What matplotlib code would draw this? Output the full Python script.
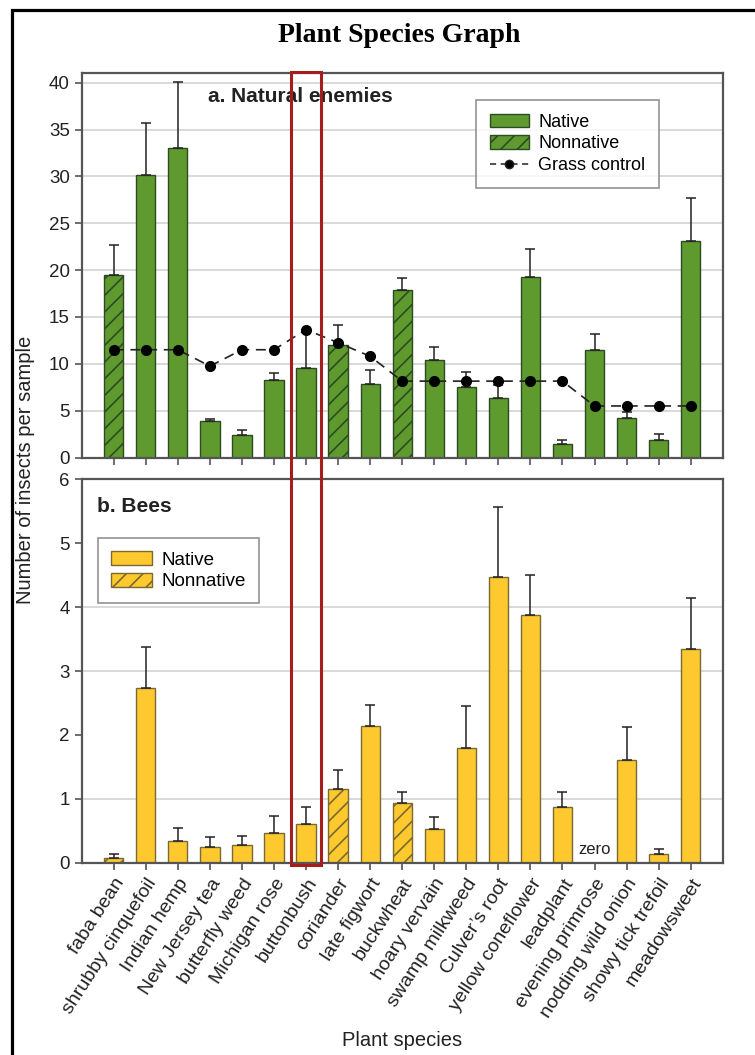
import matplotlib
matplotlib.use("Agg")
import matplotlib.pyplot as plt
from matplotlib.patches import Patch, Rectangle
from matplotlib.lines import Line2D
import matplotlib.transforms as mtransforms
import numpy as np

plt.rcParams['font.family'] = ['Liberation Sans', 'DejaVu Sans']
plt.rcParams['hatch.linewidth'] = 1.2

species = ["faba bean", "shrubby cinquefoil", "Indian hemp", "New Jersey tea",
           "butterfly weed", "Michigan rose", "buttonbush", "coriander",
           "late figwort", "buckwheat", "hoary vervain", "swamp milkweed",
           "Culver\u2019s root", "yellow coneflower", "leadplant", "evening primrose",
           "nodding wild onion", "showy tick trefoil", "meadowsweet"]
nonnative = ["faba bean", "coriander", "buckwheat"]

enemies_mean = [19.5, 30.1, 33.0, 3.9, 2.4, 8.3, 9.6, 12.0, 7.8, 17.9,
                10.4, 7.5, 6.4, 19.3, 1.4, 11.5, 4.2, 1.9, 23.1]
enemies_err = [3.2, 5.6, 7.1, 0.2, 0.5, 0.7, 4.0, 2.1, 1.5, 1.3,
               1.4, 1.6, 1.3, 3.0, 0.45, 1.7, 0.7, 0.65, 4.6]
grass_control = [11.5, 11.5, 11.5, 9.75, 11.5, 11.5, 13.65, 12.25, 10.8, 8.15,
                 8.15, 8.15, 8.15, 8.15, 8.15, 5.5, 5.5, 5.5, 5.5]

bees_mean = [0.07, 2.73, 0.34, 0.24, 0.27, 0.46, 0.60, 1.15, 2.14, 0.94,
             0.53, 1.80, 4.47, 3.87, 0.87, 0.0, 1.60, 0.13, 3.34]
bees_err = [0.07, 0.64, 0.20, 0.17, 0.15, 0.27, 0.27, 0.30, 0.33, 0.16,
            0.19, 0.66, 1.09, 0.63, 0.23, 0.0, 0.52, 0.08, 0.81]

enemies_yticks = [0, 5, 10, 15, 20, 25, 30, 35, 40]
bees_yticks = [0, 1, 2, 3, 4, 5, 6]

GREEN = "#5f9a2f"
GREEN_EDGE = "#2e4a22"
YELLOW = "#fec92f"
YELLOW_EDGE = "#7a6a30"
SPINE = "#555555"
GRID = "#d3d3d3"
TXT = "#222222"

W, H = 755, 1055
fig = plt.figure(figsize=(W / 100, H / 100), dpi=100)
fig.patch.set_facecolor("white")

def fx(px):
    return px / W

def fy(py):
    return 1 - py / H

left, right = fx(81.7), fx(722.7)
ax1 = fig.add_axes([left, fy(457.5), right - left, fy(73.3) - fy(457.5)])
ax2 = fig.add_axes([left, fy(862.7), right - left, fy(479.3) - fy(862.7)])

x = np.arange(len(species))
is_non = [s in nonnative for s in species]

def style_axes(ax, yticks, ylim):
    ax.set_xlim(-1, len(species))
    ax.set_ylim(*ylim)
    ax.set_yticks(yticks)
    ax.set_xticks(x)
    for sp in ax.spines.values():
        sp.set_color(SPINE)
        sp.set_linewidth(1.6)
    ax.tick_params(axis='both', direction='out', length=5, width=1.2,
                   color=SPINE, labelcolor=TXT, labelsize=13.5)
    ax.set_axisbelow(True)

# Top panel
style_axes(ax1, enemies_yticks, (0, 41))
for yv in enemies_yticks[1:]:
    ax1.axhline(yv, color=GRID, lw=1.2, zorder=0)
ax1.set_xticklabels([])
ax1.bar(x, enemies_mean, width=0.6, color=GREEN, edgecolor=GREEN_EDGE,
        linewidth=1.0, hatch=['//' if n else '' for n in is_non], zorder=2)
ax1.errorbar(x, enemies_mean, yerr=[np.zeros(len(x)), enemies_err], fmt='none',
             ecolor='#222222', elinewidth=1.1, capsize=3.6, capthick=1.1, zorder=3)
ax1.plot(x, grass_control, linestyle=(0, (6, 4)), color='#222222', lw=1.2,
         marker='o', markersize=7, markerfacecolor='black',
         markeredgecolor='black', zorder=4)
ax1.text((208 - 81.7) / 641, (457.5 - 96.7) / 384.2,
         "a. Natural enemies", transform=ax1.transAxes, fontsize=15,
         fontweight='bold', color=TXT, ha='left', va='center')
h_top = [Patch(facecolor=GREEN, edgecolor=GREEN_EDGE, label='Native'),
         Patch(facecolor=GREEN, edgecolor=GREEN_EDGE, hatch='//', label='Nonnative'),
         Line2D([0], [0], linestyle=(0, (4, 3)), color='#222222', lw=1.1,
                marker='o', markersize=6, markerfacecolor='black',
                label='Grass control')]
leg1 = ax1.legend(handles=h_top, loc='upper left',
                  bbox_to_anchor=((476 - 81.7) / 641, (457.5 - 100) / 384.2),
                  fontsize=13, frameon=True, fancybox=False, edgecolor='#777777',
                  handlelength=2.2, handleheight=0.8, labelspacing=0.25,
                  borderpad=0.75, handletextpad=0.5, borderaxespad=0)
leg1.get_frame().set_linewidth(1.2)

# Bottom panel
style_axes(ax2, bees_yticks, (0, 6))
for yv in [1, 3, 4]:
    ax2.axhline(yv, color=GRID, lw=1.2, zorder=0)
ax2.bar(x, bees_mean, width=0.6, color=YELLOW, edgecolor=YELLOW_EDGE,
        linewidth=1.0, hatch=['//' if n else '' for n in is_non], zorder=2)
mask = np.array(bees_mean) > 0
ax2.errorbar(x[mask], np.array(bees_mean)[mask],
             yerr=[np.zeros(mask.sum()), np.array(bees_err)[mask]], fmt='none',
             ecolor='#222222', elinewidth=1.1, capsize=3.6, capthick=1.1, zorder=3)
ax2.text(species.index("evening primrose"), 0.2, "zero", ha='center', va='center',
         fontsize=12, color=TXT)
ax2.text((97 - 81.7) / 641, (862.7 - 506) / 383.4, "b. Bees",
         transform=ax2.transAxes, fontsize=15, fontweight='bold', color=TXT,
         ha='left', va='center')
h_bot = [Patch(facecolor=YELLOW, edgecolor=YELLOW_EDGE, label='Native'),
         Patch(facecolor=YELLOW, edgecolor=YELLOW_EDGE, hatch='//', label='Nonnative')]
leg2 = ax2.legend(handles=h_bot, loc='upper left',
                  bbox_to_anchor=((98 - 81.7) / 641, (862.7 - 538) / 383.4),
                  fontsize=13.5, frameon=True, fancybox=False, edgecolor='#777777',
                  handlelength=2.2, handleheight=0.8, labelspacing=0.2,
                  borderpad=0.7, handletextpad=0.5, borderaxespad=0)
leg2.get_frame().set_linewidth(1.2)
ax2.set_xticklabels(species, rotation=57, ha='right', rotation_mode='anchor',
                    fontsize=14)
ax2.tick_params(axis='x', pad=4)

# Shared labels
fig.text(fx(26), fy(470), "Number of insects per sample", rotation=90,
         ha='center', va='center', fontsize=14.5, color=TXT)
fig.text(fx(402), fy(1040), "Plant species", ha='center', va='center',
         fontsize=14.5, color=TXT)

# Title
fig.text(fx(399), fy(36), "Plant Species Graph", ha='center', va='center',
         fontsize=20, fontweight='bold', family=['Liberation Serif', 'DejaVu Serif'],
         color='black')

# Highlight rectangle around buttonbush
bi = species.index("buttonbush")
trans = mtransforms.blended_transform_factory(ax1.transData, fig.transFigure)
rect = Rectangle((bi - 0.47, fy(865)), 0.94, fy(71.7) - fy(865), transform=trans,
                 fill=False, edgecolor='#a51d1d', linewidth=2.2, zorder=10,
                 clip_on=False)
fig.add_artist(rect)

# Outer frame (top and left edges visible)
frame = Rectangle((fx(12), -0.1), 1.2, fy(10) + 0.1, transform=fig.transFigure,
                  fill=False, edgecolor='black', linewidth=2.3, clip_on=False)
fig.add_artist(frame)

fig.savefig("out.png", dpi=100)
